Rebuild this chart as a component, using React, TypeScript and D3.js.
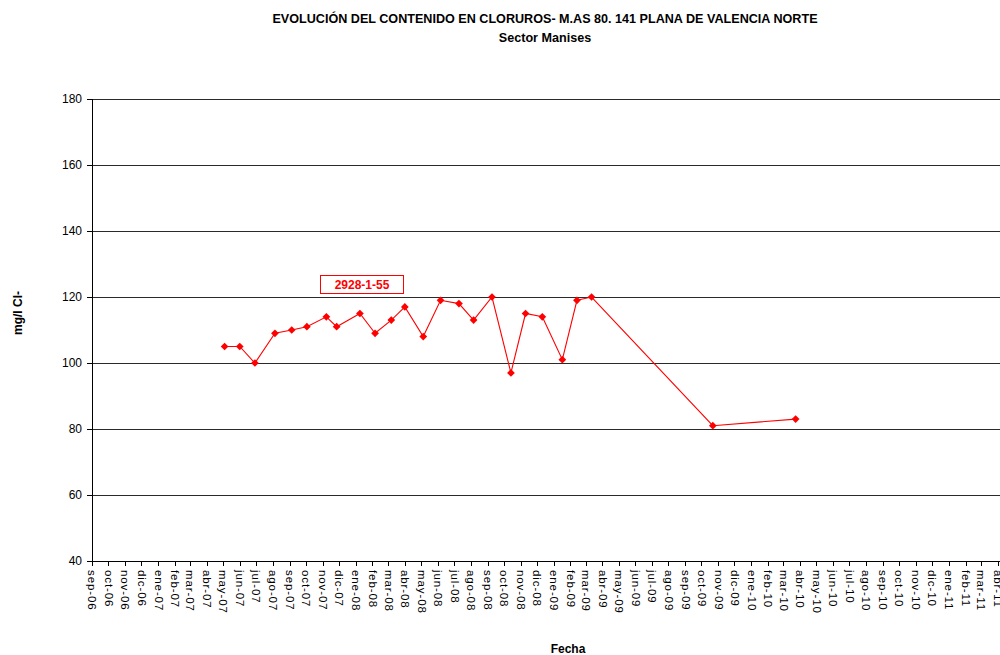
import React, { useEffect, useRef } from "react";
import * as d3 from "d3";

const title1 = "EVOLUCIÓN DEL CONTENIDO EN CLORUROS- M.AS 80. 141 PLANA DE VALENCIA NORTE";
const title2 = "Sector Manises";
const yTitle = "mg/l Cl-";
const xTitle = "Fecha";
const seriesName = "2928-1-55";

const monthNames = ["ene", "feb", "mar", "abr", "may", "jun", "jul", "ago", "sep", "oct", "nov", "dic"];
const yTicks = [40, 60, 80, 100, 120, 140, 160, 180];

const sampleDates = [
  "2007-05-04", "2007-06-01", "2007-06-29", "2007-08-05", "2007-09-05", "2007-10-03",
  "2007-11-08", "2007-11-27", "2008-01-09", "2008-02-06", "2008-03-07", "2008-04-01",
  "2008-05-05", "2008-06-06", "2008-07-10", "2008-08-06", "2008-09-09", "2008-10-14",
  "2008-11-10", "2008-12-11", "2009-01-17", "2009-02-13", "2009-03-12", "2009-10-22",
  "2010-03-24",
];
const chlorideValues = [
  105, 105, 100, 109, 110, 111,
  114, 111, 115, 109, 113, 117,
  108, 119, 118, 113, 120, 97,
  115, 114, 101, 119, 120, 81,
  83,
];

const FONT = "'Liberation Sans', Arial, sans-serif";

export default function App() {
  const ref = useRef<SVGSVGElement>(null);

  useEffect(() => {
    const svg = d3.select(ref.current);
    svg.selectAll("*").remove();

    const parse = d3.timeParse("%Y-%m-%d");
    const left = 92, top = 99, bottom = 561;
    const x = d3.scaleTime()
      .domain([new Date(2006, 8, 1), new Date(2011, 3, 1)])
      .range([left, 997.5]);
    const xEnd = new Date(2011, 6, 1);
    const y = d3.scaleLinear().domain([40, 180]).range([bottom, top]);

    // gridlines
    svg.append("g")
      .selectAll("line")
      .data(yTicks.filter((t) => t > 40))
      .join("line")
      .attr("x1", left).attr("x2", x(xEnd))
      .attr("y1", (d) => y(d)).attr("y2", (d) => y(d))
      .attr("stroke", "#2a2a2a").attr("stroke-width", 1)
      .attr("shape-rendering", "crispEdges");

    // y axis
    const yAxis = svg.append("g")
      .attr("transform", `translate(${left},0)`)
      .call(d3.axisLeft(y).tickValues(yTicks).tickSize(5).tickPadding(5).tickFormat((d) => String(d)));
    yAxis.select(".domain").attr("stroke", "#000").attr("shape-rendering", "crispEdges");
    yAxis.selectAll(".tick line").attr("stroke", "#000").attr("shape-rendering", "crispEdges");
    yAxis.selectAll("text").attr("font-family", FONT).attr("font-size", 12).attr("fill", "#000");

    // x axis
    const monthTicks = d3.timeMonth.range(new Date(2006, 8, 1), xEnd);
    const xAxis = svg.append("g")
      .attr("transform", `translate(0,${bottom})`)
      .call(
        d3.axisBottom(x)
          .tickValues(monthTicks)
          .tickSize(5)
          .tickSizeOuter(0)
          .tickFormat((d: any) => `${monthNames[d.getMonth()]}-${String(d.getFullYear() % 100).padStart(2, "0")}`)
      );
    xAxis.select(".domain").attr("stroke", "#000").attr("shape-rendering", "crispEdges")
      .attr("d", `M${left},0.5H${x(xEnd)}`);
    xAxis.selectAll(".tick line").attr("stroke", "#000").attr("shape-rendering", "crispEdges");
    xAxis.selectAll("text")
      .attr("font-family", FONT).attr("font-size", 11.5).attr("fill", "#000")
      .attr("letter-spacing", "0.9px")
      .attr("transform", "rotate(90)")
      .attr("text-anchor", "start")
      .attr("x", 9).attr("y", 0).attr("dy", "0.35em");

    // series
    const pts = sampleDates.map((d, i) => ({ date: parse(d) as Date, v: chlorideValues[i] }));
    const line = d3.line<{ date: Date; v: number }>().x((d) => x(d.date)).y((d) => y(d.v));
    svg.append("path").datum(pts).attr("d", line).attr("fill", "none")
      .attr("stroke", "#ff0000").attr("stroke-width", 1.1);
    const marker = d3.symbol().type(d3.symbolSquare).size(30);
    svg.append("g").selectAll("path").data(pts).join("path")
      .attr("d", marker as any)
      .attr("transform", (d) => `translate(${x(d.date)},${y(d.v)}) rotate(45)`)
      .attr("fill", "#ff0000");

    // series label box
    const lg = svg.append("g").attr("transform", `translate(320.5,275.5)`);
    lg.append("rect").attr("width", 83).attr("height", 18).attr("fill", "#fff")
      .attr("stroke", "#ff0000").attr("stroke-width", 1);
    lg.append("text").attr("x", 41.5).attr("y", 13.5).attr("text-anchor", "middle")
      .attr("font-family", FONT).attr("font-size", 12).attr("font-weight", "bold")
      .attr("fill", "#ff0000").text(seriesName);

    // titles
    svg.append("text").attr("x", 545).attr("y", 23).attr("text-anchor", "middle")
      .attr("font-family", FONT).attr("font-size", 12.6).attr("font-weight", "bold").text(title1);
    svg.append("text").attr("x", 545).attr("y", 42).attr("text-anchor", "middle")
      .attr("font-family", FONT).attr("font-size", 12.6).attr("font-weight", "bold").text(title2);
    svg.append("text").attr("transform", "translate(22,313) rotate(-90)").attr("text-anchor", "middle")
      .attr("font-family", FONT).attr("font-size", 12).attr("font-weight", "bold").text(yTitle);
    svg.append("text").attr("x", 568).attr("y", 653).attr("text-anchor", "middle")
      .attr("font-family", FONT).attr("font-size", 12).attr("font-weight", "bold").text(xTitle);
  }, []);

  return (
    <svg ref={ref} width={1000} height={655}
      style={{ position: "absolute", left: 0, top: 0, background: "#fff", display: "block" }} />
  );
}
